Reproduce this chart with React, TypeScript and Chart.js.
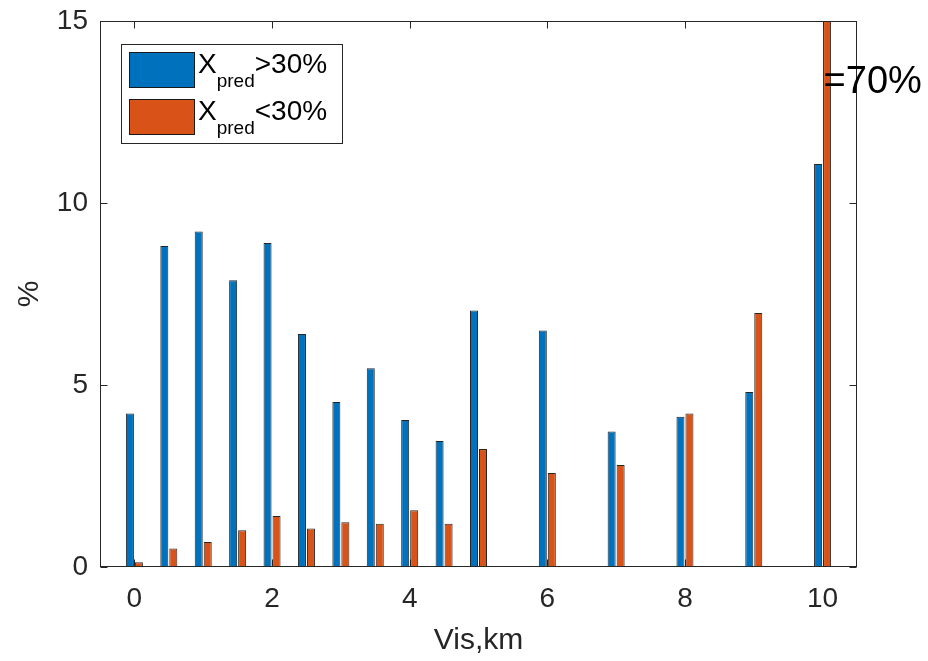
import React, { useEffect, useRef } from 'react';
import { Chart, registerables } from 'chart.js';

Chart.register(...registerables);

// ---- data ----
const visKm = [0, 0.5, 1, 1.5, 2, 2.5, 3, 3.5, 4, 4.5, 5, 6, 7, 8, 9, 10];
const highShare = [4.22, 8.82, 9.22, 7.88, 8.9, 6.4, 4.53, 5.46, 4.04, 3.46, 7.05, 6.5, 3.72, 4.13, 4.81, 11.07];
const lowShare = [0.13, 0.51, 0.69, 1.01, 1.4, 1.06, 1.23, 1.19, 1.56, 1.19, 3.24, 2.58, 2.8, 4.22, 6.98, 70];
const xTicks = [0, 2, 4, 6, 8, 10];
const yTicks = [0, 5, 10, 15];
const seriesBase = ['X', 'X'];
const seriesSub = ['pred', 'pred'];
const seriesTail = ['>30%', '<30%'];
const seriesColors = ['#0072BD', '#D95319'];
const overflowNote = '=70%';
const overflowAt = { x: 10, y: 13.3 };
const xTitle = 'Vis,km';
const yTitle = '%';

const FONT = '"Liberation Sans", Arial, Helvetica, sans-serif';
const AXIS = '#262626';

const matlabFrame = {
  id: 'matlabFrame',
  afterDatasetsDraw(chart: any) {
    const { ctx, chartArea: a, scales } = chart;
    const x = scales.x;
    const y = scales.y;
    ctx.save();
    ctx.strokeStyle = AXIS;
    ctx.lineWidth = 1;
    const L = Math.round(a.left) + 0.5;
    const R = Math.round(a.right) - 0.5;
    const T = Math.round(a.top) + 0.5;
    const B = Math.round(a.bottom) - 0.5;
    ctx.strokeRect(L, T, R - L, B - T);
    const tl = 7;
    ctx.beginPath();
    xTicks.forEach((v) => {
      const px = Math.round(x.getPixelForValue(v)) + 0.5;
      ctx.moveTo(px, B);
      ctx.lineTo(px, B - tl);
      ctx.moveTo(px, T);
      ctx.lineTo(px, T + tl);
    });
    yTicks.forEach((v) => {
      const py = Math.round(y.getPixelForValue(v)) + 0.5;
      ctx.moveTo(L, py);
      ctx.lineTo(L + tl, py);
      ctx.moveTo(R, py);
      ctx.lineTo(R - tl, py);
    });
    ctx.stroke();
    ctx.restore();
  },
  afterDraw(chart: any) {
    const { ctx, chartArea: a, scales } = chart;
    ctx.save();
    // overflow annotation
    ctx.fillStyle = '#000';
    ctx.font = `38px ${FONT}`;
    ctx.textAlign = 'left';
    ctx.textBaseline = 'middle';
    ctx.fillText(overflowNote, scales.x.getPixelForValue(overflowAt.x) + 1, scales.y.getPixelForValue(overflowAt.y));

    // legend
    const lx = Math.round(a.left) + 21;
    const ly = Math.round(a.top) + 23;
    const lw = 221;
    const lh = 99;
    ctx.fillStyle = '#fff';
    ctx.fillRect(lx, ly, lw, lh);
    ctx.strokeStyle = AXIS;
    ctx.lineWidth = 1;
    ctx.strokeRect(lx + 0.5, ly + 0.5, lw, lh);
    chart.data.datasets.forEach((ds: any, i: number) => {
      const sy = ly + 8 + i * 47;
      const sx = lx + 8;
      ctx.fillStyle = seriesColors[i];
      ctx.fillRect(sx, sy, 66, 36);
      ctx.strokeStyle = '#1a1a1a';
      ctx.strokeRect(sx + 0.5, sy + 0.5, 65, 35);
      ctx.fillStyle = '#000';
      ctx.textBaseline = 'alphabetic';
      let tx = sx + 69;
      ctx.font = `28px ${FONT}`;
      ctx.fillText(seriesBase[i], tx, sy + 21);
      tx += ctx.measureText(seriesBase[i]).width;
      ctx.font = `19px ${FONT}`;
      ctx.fillText(seriesSub[i], tx, sy + 35);
      tx += ctx.measureText(seriesSub[i]).width;
      ctx.font = `28px ${FONT}`;
      ctx.fillText(seriesTail[i], tx, sy + 21);
    });
    ctx.restore();
  },
};

export default function App() {
  const ref = useRef<HTMLCanvasElement>(null);
  useEffect(() => {
    if (!ref.current) return;
    const chart = new Chart(ref.current, {
      type: 'bar',
      data: {
        datasets: [
          {
            label: seriesBase[0] + '_' + seriesSub[0] + seriesTail[0],
            data: visKm.map((v, i) => ({ x: v, y: highShare[i] })),
            backgroundColor: seriesColors[0],
            borderColor: 'rgba(0,0,0,0.85)',
            borderWidth: 1,
            categoryPercentage: 0.523,
            barPercentage: 0.89,
          },
          {
            label: seriesBase[1] + '_' + seriesSub[1] + seriesTail[1],
            data: visKm.map((v, i) => ({ x: v, y: lowShare[i] })),
            backgroundColor: seriesColors[1],
            borderColor: 'rgba(0,0,0,0.85)',
            borderWidth: 1,
            categoryPercentage: 0.523,
            barPercentage: 0.89,
          },
        ],
      },
      options: {
        responsive: false,
        animation: false,
        layout: { padding: { left: 0, top: 21, right: 71, bottom: 0 } },
        plugins: { legend: { display: false }, tooltip: { enabled: false } },
        scales: {
          x: {
            type: 'linear',
            min: -0.5,
            max: 10.5,
            offset: false,
            grid: { display: false, drawTicks: false },
            border: { display: false },
            afterBuildTicks: (s: any) => {
              s.ticks = xTicks.map((v) => ({ value: v }));
            },
            afterFit: (s: any) => {
              s.height = 94;
              s.paddingLeft = 0;
              s.paddingRight = 0;
            },
            ticks: {
              color: AXIS,
              font: { family: FONT, size: 28, lineHeight: 1.2 },
              padding: 15,
              maxRotation: 0,
              autoSkip: false,
            },
            title: {
              display: true,
              text: xTitle,
              color: AXIS,
              font: { family: FONT, size: 30, lineHeight: 1.2 },
              padding: { top: 0, bottom: 2 },
            },
          },
          y: {
            type: 'linear',
            min: 0,
            max: 15,
            grid: { display: false, drawTicks: false },
            border: { display: false },
            afterBuildTicks: (s: any) => {
              s.ticks = yTicks.map((v) => ({ value: v }));
            },
            afterFit: (s: any) => {
              s.width = 100;
              s.paddingTop = 0;
              s.paddingBottom = 0;
            },
            ticks: {
              color: AXIS,
              font: { family: FONT, size: 28, lineHeight: 1.2 },
              padding: 12,
            },
            title: {
              display: true,
              text: yTitle,
              color: AXIS,
              font: { family: FONT, size: 30, lineHeight: 1.2 },
              padding: { top: 12, bottom: 0 },
            },
          },
        },
      },
      plugins: [matlabFrame],
    } as any);
    return () => chart.destroy();
  }, []);
  return (
    <div style={{ position: 'absolute', left: 0, top: 0, width: 928, height: 661, background: '#fff' }}>
      <canvas ref={ref} width={928} height={661} style={{ display: 'block' }} />
    </div>
  );
}
